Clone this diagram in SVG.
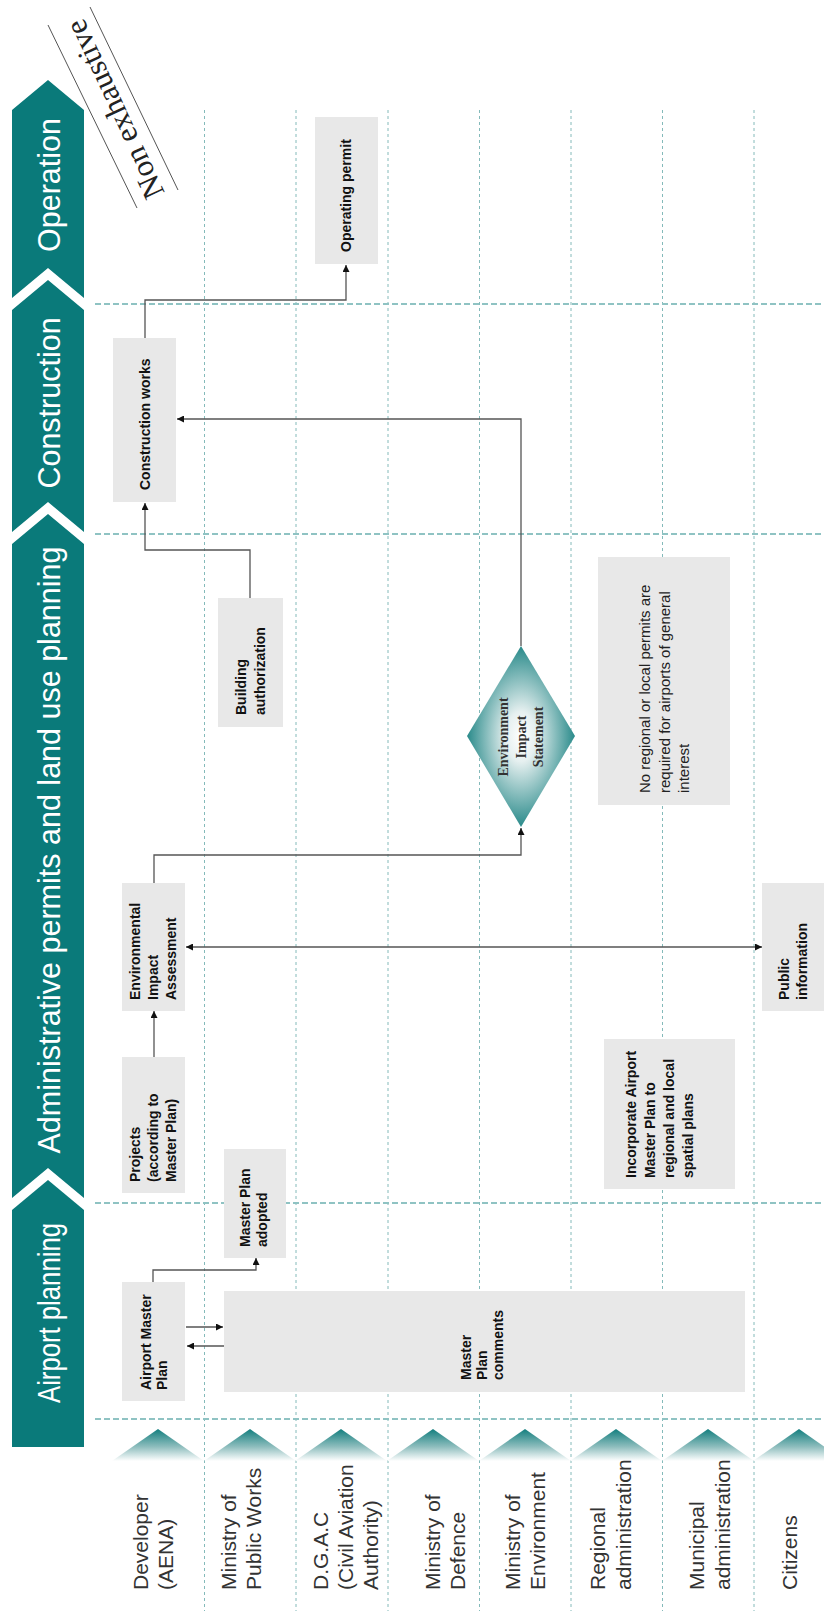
<svg xmlns="http://www.w3.org/2000/svg" width="824" height="1611" viewBox="0 0 824 1611">
<style>
.band{fill:#0a7a7a}
.bandt{font-family:"Liberation Sans",Arial,sans-serif;font-size:30.5px;fill:#ffffff;text-anchor:middle}
.vgrid{stroke:#84baba;stroke-width:1;stroke-dasharray:3 3;fill:none}
.hgrid{stroke:#8fc3c3;stroke-width:2;stroke-dasharray:6 3;fill:none}
.lane{font-family:"Liberation Sans",Arial,sans-serif;font-size:21px;fill:#333333}
.box{fill:#e8e8e8}
.nt{font-family:"Liberation Sans",Arial,sans-serif;font-size:14px;font-weight:bold;fill:#111111}
.nr{font-family:"Liberation Sans",Arial,sans-serif;font-size:15px;fill:#222222}
.dt{font-family:"Liberation Serif","Times New Roman",serif;font-size:14px;font-weight:bold;fill:#333333;text-anchor:middle}
.conn{stroke:#555555;stroke-width:1.3;fill:none}
.tri{fill:url(#triG)}
</style>
<defs>
<linearGradient id="triG" x1="0" y1="0" x2="0" y2="1">
<stop offset="0" stop-color="#127e7e"/>
<stop offset="0.55" stop-color="#8dbdbd"/>
<stop offset="1" stop-color="#ffffff"/>
</linearGradient>
<radialGradient id="diaG" cx="0.5" cy="0.5" r="0.55">
<stop offset="0" stop-color="#ffffff"/>
<stop offset="0.25" stop-color="#e6f0f0"/>
<stop offset="1" stop-color="#0f7c7c"/>
</radialGradient>
<marker id="arr" viewBox="0 0 10 10" refX="10" refY="5" markerWidth="7" markerHeight="7" markerUnits="userSpaceOnUse" orient="auto-start-reverse">
<path d="M0,0 L10,5 L0,10 z" fill="#111111"/>
</marker>
</defs>

<g id="phase-banner">
<polygon class="band" points="12,110 48,80 84,110 84,298 48,268 12,298"/>
<polygon class="band" points="12,310 48,280 84,310 84,532 48,502 12,532"/>
<polygon class="band" points="12,544 48,514 84,544 84,1198 48,1168 12,1198"/>
<polygon class="band" points="12,1210 48,1180 84,1210 84,1447 12,1447"/>
<text class="bandt" transform="translate(60,185) rotate(-90)">Operation</text>
<text class="bandt" transform="translate(60,403) rotate(-90)">Construction</text>
<text class="bandt" transform="translate(60,850) rotate(-90)">Administrative permits and land use planning</text>
<text class="bandt" transform="translate(60,1313) rotate(-90)" textLength="180" lengthAdjust="spacingAndGlyphs">Airport planning</text>
</g>

<g id="non-exhaustive">
<line x1="48" y1="25" x2="137" y2="208" stroke="#555555" stroke-width="1"/>
<line x1="90" y1="7" x2="178" y2="190" stroke="#555555" stroke-width="1"/>
<text transform="translate(124,105) rotate(-115)" font-family="'Liberation Serif','Times New Roman',serif" font-size="31" fill="#222222" text-anchor="middle">Non exhaustive</text>
</g>

<g id="grid">
<path class="vgrid" d="M204.5,110V1611M296,110V1611M388,110V1611M479.5,110V1611M571,110V1611M662.5,110V1611M754,110V1611"/>
<path class="hgrid" d="M95,304H824M95,534H824M95,1203H824M95,1419H824"/>
</g>

<g id="lane-headers">
<polygon class="tri" points="112,1461 158,1429 204,1461"/>
<polygon class="tri" points="204,1461 250,1429 296,1461"/>
<polygon class="tri" points="295,1461 341,1429 387,1461"/>
<polygon class="tri" points="387,1461 433,1429 479,1461"/>
<polygon class="tri" points="479,1461 525,1429 571,1461"/>
<polygon class="tri" points="570,1461 616,1429 662,1461"/>
<polygon class="tri" points="662,1461 708,1429 754,1461"/>
<polygon class="tri" points="753,1461 799,1429 845,1461"/>
</g>

<g id="lane-developer"><text class="lane" transform="translate(148,1590) rotate(-90)"><tspan x="0" y="0">Developer</tspan><tspan x="0" dy="25">(AENA)</tspan></text></g>
<g id="lane-public-works"><text class="lane" transform="translate(236,1590) rotate(-90)"><tspan x="0" y="0">Ministry of</tspan><tspan x="0" dy="25">Public Works</tspan></text></g>
<g id="lane-dgac"><text class="lane" transform="translate(328,1590) rotate(-90)"><tspan x="0" y="0">D.G.A.C</tspan><tspan x="0" dy="25">(Civil Aviation</tspan><tspan x="0" dy="25">Authority)</tspan></text></g>
<g id="lane-defence"><text class="lane" transform="translate(440,1590) rotate(-90)"><tspan x="0" y="0">Ministry of</tspan><tspan x="0" dy="25">Defence</tspan></text></g>
<g id="lane-environment"><text class="lane" transform="translate(520,1590) rotate(-90)"><tspan x="0" y="0">Ministry of</tspan><tspan x="0" dy="25">Environment</tspan></text></g>
<g id="lane-regional"><text class="lane" transform="translate(605,1590) rotate(-90)"><tspan x="0" y="0">Regional</tspan><tspan x="0" dy="26">administration</tspan></text></g>
<g id="lane-municipal"><text class="lane" transform="translate(704,1590) rotate(-90)"><tspan x="0" y="0">Municipal</tspan><tspan x="0" dy="26">administration</tspan></text></g>
<g id="lane-citizens"><text class="lane" transform="translate(797,1590) rotate(-90)">Citizens</text></g>

<g id="node-operating-permit">
<rect class="box" x="315" y="117" width="63" height="147"/>
<text class="nt" transform="translate(351,252) rotate(-90)">Operating permit</text>
</g>
<g id="node-construction-works">
<rect class="box" x="113" y="338" width="63" height="164"/>
<text class="nt" transform="translate(150,490) rotate(-90)">Construction works</text>
</g>
<g id="node-building-authorization">
<rect class="box" x="218" y="598" width="65" height="129"/>
<text class="nt" transform="translate(246,715) rotate(-90)"><tspan x="0" y="0">Building</tspan><tspan x="0" dy="19">authorization</tspan></text>
</g>
<g id="node-no-regional">
<rect class="box" x="598" y="557" width="132" height="248"/>
<text class="nr" transform="translate(650,793) rotate(-90)"><tspan x="0" y="0">No regional or local permits are</tspan><tspan x="0" dy="19.5">required for airports of general</tspan><tspan x="0" dy="19.5">interest</tspan></text>
</g>
<g id="node-eis">
<polygon points="521,646 575,736 521,827 467,736" fill="url(#diaG)"/>
<text class="dt" transform="translate(508,737) rotate(-90)"><tspan x="0" y="0">Environment</tspan><tspan x="0" dy="17.5">Impact</tspan><tspan x="0" dy="17.5">Statement</tspan></text>
</g>
<g id="node-eia">
<rect class="box" x="122" y="883" width="63" height="128"/>
<text class="nt" transform="translate(140,1000) rotate(-90)"><tspan x="0" y="0">Environmental</tspan><tspan x="0" dy="18">Impact</tspan><tspan x="0" dy="18">Assessment</tspan></text>
</g>
<g id="node-public-information">
<rect class="box" x="762" y="883" width="62" height="128"/>
<text class="nt" transform="translate(789,1000) rotate(-90)"><tspan x="0" y="0">Public</tspan><tspan x="0" dy="18">information</tspan></text>
</g>
<g id="node-projects">
<rect class="box" x="122" y="1057" width="63" height="136"/>
<text class="nt" transform="translate(140,1182) rotate(-90)"><tspan x="0" y="0">Projects</tspan><tspan x="0" dy="18">(according to</tspan><tspan x="0" dy="18">Master Plan)</tspan></text>
</g>
<g id="node-incorporate">
<rect class="box" x="604" y="1039" width="131" height="150"/>
<text class="nt" transform="translate(636,1178) rotate(-90)"><tspan x="0" y="0">Incorporate Airport</tspan><tspan x="0" dy="19">Master Plan to</tspan><tspan x="0" dy="19">regional and local</tspan><tspan x="0" dy="19">spatial plans</tspan></text>
</g>
<g id="node-master-plan-adopted">
<rect class="box" x="224" y="1149" width="62" height="109"/>
<text class="nt" transform="translate(249.5,1247) rotate(-90)"><tspan x="0" y="0">Master Plan</tspan><tspan x="0" dy="17">adopted</tspan></text>
</g>
<g id="node-airport-master-plan">
<rect class="box" x="122" y="1282" width="63" height="119"/>
<text class="nt" transform="translate(150.5,1390) rotate(-90)"><tspan x="0" y="0">Airport Master</tspan><tspan x="0" dy="16.5">Plan</tspan></text>
</g>
<g id="node-master-plan-comments">
<rect class="box" x="224" y="1291" width="521" height="101"/>
<text class="nt" transform="translate(470.5,1380) rotate(-90)"><tspan x="0" y="0">Master</tspan><tspan x="0" dy="16">Plan</tspan><tspan x="0" dy="16">comments</tspan></text>
</g>

<g id="connectors">
<path class="conn" d="M153,1282V1270H256V1258" marker-end="url(#arr)"/>
<path class="conn" d="M186,1327H223" marker-end="url(#arr)"/>
<path class="conn" d="M224,1346H187" marker-end="url(#arr)"/>
<path class="conn" d="M154,1057V1011" marker-end="url(#arr)"/>
<path class="conn" d="M186,947H762" marker-start="url(#arr)" marker-end="url(#arr)"/>
<path class="conn" d="M154,883V855H521V828" marker-end="url(#arr)"/>
<path class="conn" d="M521,646V419H177" marker-end="url(#arr)"/>
<path class="conn" d="M250,598V550H145V503" marker-end="url(#arr)"/>
<path class="conn" d="M145,338V300H346V265" marker-end="url(#arr)"/>
</g>
</svg>
